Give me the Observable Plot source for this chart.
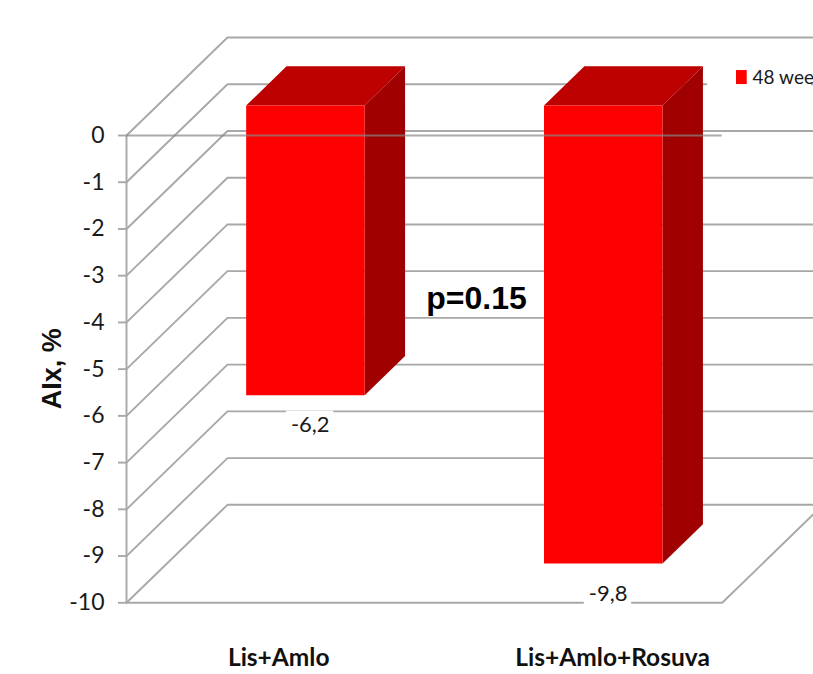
<!DOCTYPE html>
<html>
<head>
<meta charset="utf-8">
<script src="https://cdn.jsdelivr.net/npm/d3@7"></script>
<script src="https://cdn.jsdelivr.net/npm/@observablehq/plot@0.6"></script>
<style>
  html, body { margin: 0; padding: 0; background: #fff; }
  svg { display: block; }
</style>
</head>
<body>
<div id="chart"></div>
<script>
// AIx change per treatment arm
const categories = ["Lis+Amlo", "Lis+Amlo+Rosuva"];
const values = [-6.2, -9.8];
const valueLabels = ["-6,2", "-9,8"];
const yTicks = [0, -1, -2, -3, -4, -5, -6, -7, -8, -9, -10];
const seriesName = "48 wee";

// Oblique projection: one unit of depth shifts a point right and up, in data units
const depthX = 0.339;
const depthY = 2.097;
const project = (x, v, d) => ({x: x + d * depthX, y: v + d * depthY});

// Bar footprint, in category units and depth units
const barWidth = 0.398;
const barFront = 0.306;
const barBack = 0.706;
const barCenter = i => i + 0.497;

// Walls: a diagonal on the left side and a horizontal on the back, one per tick
const wallLines = yTicks.flatMap(v => [
  {...project(0, v, 0), z: v},
  {...project(0, v, 1), z: v},
  {...project(2, v, 1), z: v}
]);
const floorEdge = [
  {...project(0, -10, 0), z: "floor"},
  {...project(2, -10, 0), z: "floor"},
  {...project(2, -10, 1), z: "floor"}
];

// Three visible faces per bar
const faces = (fn) => categories.flatMap((c, i) => {
  const x0 = barCenter(i) - barWidth / 2, x1 = barCenter(i) + barWidth / 2, v = values[i];
  return fn(`${c}`, x0, x1, v);
});
const corners = (z, pts) => pts.map(([x, v, d]) => ({...project(x, v, d), z}));
const frontFaces = faces((c, x0, x1, v) => corners(c, [
  [x0, 0, barFront], [x1, 0, barFront], [x1, v, barFront], [x0, v, barFront]
]));
const topFaces = faces((c, x0, x1) => corners(c, [
  [x0, 0, barFront], [x1, 0, barFront], [x1, 0, barBack], [x0, 0, barBack]
]));
const sideFaces = faces((c, x0, x1, v) => corners(c, [
  [x1, 0, barFront], [x1, 0, barBack], [x1, v, barBack], [x1, v, barFront]
]));

const gridColor = "#a8a8a8";
const textColor = "#1a1a1a";
const bodyFont = "Lato, 'Liberation Sans', sans-serif";

const chart = Plot.plot({
  width: 813,
  height: 674,
  margin: 0,
  style: {background: "#fff", fontFamily: bodyFont},
  x: {domain: [0, 2], range: [126, 721.7], axis: null},
  y: {domain: [-10, 0], range: [602.3, 135], axis: null},
  marks: [
    Plot.line(wallLines, {x: "x", y: "y", z: "z", stroke: gridColor, strokeWidth: 1.9}),
    Plot.line(floorEdge, {x: "x", y: "y", z: "z", stroke: gridColor, strokeWidth: 1.9}),
    Plot.ruleX([0], {y1: -10, y2: 0, stroke: gridColor, strokeWidth: 1.9}),

    // Legend backing cuts the wall line behind it
    Plot.rect([0], {x1: () => 1.951, x2: () => 2.3, y1: () => 0.85, y2: () => 1.75, fill: "#fff"}),

    // Bars
    Plot.line(topFaces, {x: "x", y: "y", z: "z", fill: "#bd0000", stroke: "none"}),
    Plot.line(sideFaces, {x: "x", y: "y", z: "z", fill: "#a00000", stroke: "none"}),
    Plot.line(frontFaces, {x: "x", y: "y", z: "z", fill: "#ff0000", stroke: "none"}),

    // Zero baseline runs across the bars
    Plot.ruleY([0], {x1: 0, x2: 2, stroke: "#888", strokeOpacity: 0.7, strokeWidth: 1.9}),

    // Value labels sit on white plates that interrupt the grid
    Plot.rect(values, {
      x1: (d, i) => barCenter(i) + 0.04,
      x2: (d, i) => barCenter(i) + 0.199,
      y1: d => d - 0.3,
      y2: d => d + 0.3,
      fill: "#fff"
    }),
    Plot.text(values, {
      x: (d, i) => barCenter(i) + 0.12,
      y: d => d,
      text: (d, i) => valueLabels[i],
      fontSize: 22,
      fill: textColor
    }),

    // Y axis
    Plot.axisY(yTicks, {
      anchor: "left",
      x: 0,
      tickSize: 8,
      tickPadding: 14,
      tickFormat: d => String(d),
      stroke: gridColor,
      strokeWidth: 1.9,
      fill: textColor,
      fontSize: 23,
      label: null
    }),

    // Category names
    Plot.text(categories, {
      x: (d, i) => [0.511, 1.632][i],
      y: () => -11.18,
      text: d => d,
      fontSize: 24.5,
      fontWeight: "bold",
      fill: "#111"
    }),

    // Axis title and p value
    Plot.text(["AIx, %"], {
      x: () => -0.248,
      y: () => -4.99,
      text: d => d,
      rotate: -90,
      fontFamily: "'Liberation Sans', sans-serif",
      fontWeight: "bold",
      fontSize: 27,
      fill: "#111"
    }),
    Plot.text(["p=0.15"], {
      x: () => 1.175,
      y: () => -3.49,
      text: d => d,
      fontFamily: "'Liberation Sans', sans-serif",
      fontWeight: "bold",
      fontSize: 32,
      fill: "#000"
    }),

    // Legend entry
    Plot.rect([seriesName], {x1: () => 2.048, x2: () => 2.084, y1: () => 1.09, y2: () => 1.39, fill: "#ff0000"}),
    Plot.text([seriesName], {
      x: () => 2.102,
      y: () => 1.24,
      text: d => d,
      textAnchor: "start",
      fontSize: 19,
      fill: textColor
    })
  ]
});

document.getElementById("chart").append(chart);
</script>
</body>
</html>
